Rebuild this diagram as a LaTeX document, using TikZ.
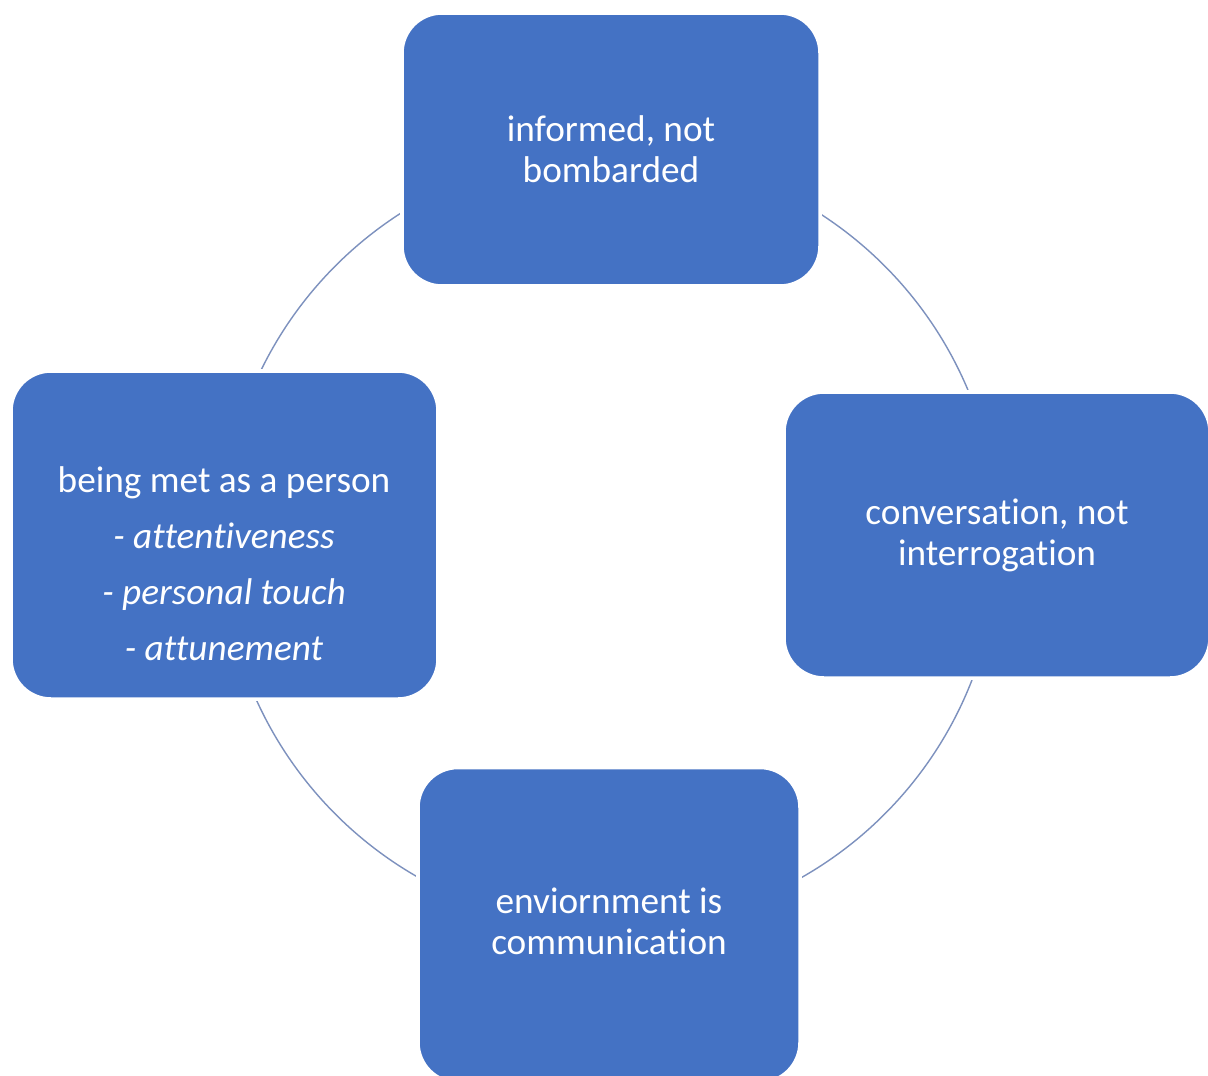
\documentclass[tikz,border=0pt]{standalone}
\usepackage{fontspec}
\setmainfont{Carlito}[Ligatures=NoCommon]
\definecolor{boxblue}{HTML}{4472C4}
\definecolor{ringcol}{RGB}{125,145,190}
\begin{document}
\begin{tikzpicture}[
  box/.style={fill=boxblue, draw=white, line width=2pt, rounded corners=0.8cm, inner sep=0pt},
  txt/.style={text=white, align=center, font=\fontsize{21.2}{23.3}\selectfont},
]
\useasboundingbox[fill=white] (0,0) rectangle (24.16,-21.5);
% ring
\coordinate (ctr) at (12.2,-10.8);
\draw[ringcol, line width=0.8pt] (ctr) circle[radius=7.76];
% boxes
\node[box, minimum width=8.36cm, minimum height=5.46cm] (top) at (12.22,-2.99) {};
\node[box, minimum width=8.52cm, minimum height=5.72cm] (right) at (19.94,-10.70) {};
\node[box, minimum width=7.64cm, minimum height=6.30cm] (bottom) at (12.18,-18.50) {};
\node[box, minimum width=8.54cm, minimum height=6.56cm] (left) at (4.49,-10.70) {};
% texts
\node[txt] (toptext) at (top.center) {informed, not\\bombarded};
\node[txt] (righttext) at (right.center) {conversation, not\\interrogation};
\node[txt] (bottomtext) at (12.18,-18.42) {enviornment is\\communication};
\node[txt, font=\fontsize{21.2}{31.9}\selectfont] (lefttext) at (4.48,-11.27) {being met as a person\\\textit{- attentiveness}\\\textit{- personal touch}\\\textit{- attunement}};
\end{tikzpicture}
\end{document}
